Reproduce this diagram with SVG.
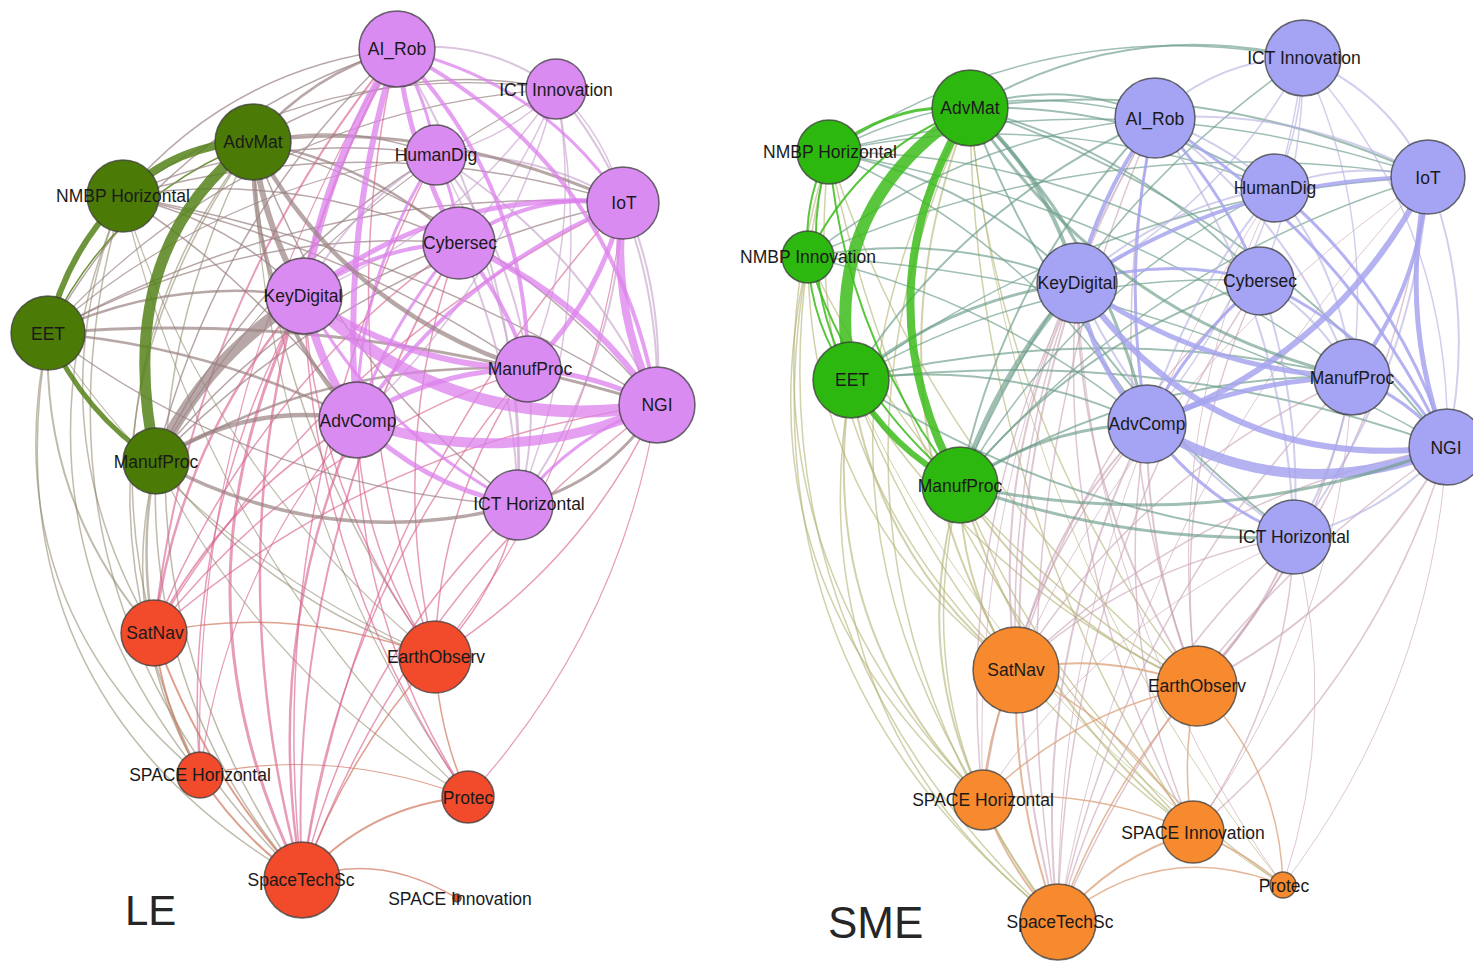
<svg xmlns="http://www.w3.org/2000/svg" width="1473" height="968" viewBox="0 0 1473 968">
<style>
.e path{fill:none;stroke-linecap:round}
.lg{stroke:#55821a;stroke-opacity:.85}
.lgp{stroke:#9a8282;stroke-opacity:.7}
.lgr{stroke:#8c8466;stroke-opacity:.55}
.lpp{stroke:#dc80ec;stroke-opacity:.75}
.lpt{stroke:#c8a4cc;stroke-opacity:.65}
.lpr{stroke:#d8608e;stroke-opacity:.62}
.lrr{stroke:#d0785e;stroke-opacity:.7}
.sg{stroke:#3cbc1c;stroke-opacity:.85}
.sgb{stroke:#6b9d88;stroke-opacity:.65}
.sbb{stroke:#a7a5ef;stroke-opacity:.85}
.sbt{stroke:#b2afe0;stroke-opacity:.6}
.sgo{stroke:#b3b274;stroke-opacity:.6}
.sbo{stroke:#c8a2b4;stroke-opacity:.6}
.soo{stroke:#dba07a;stroke-opacity:.75}
.node circle{stroke:#3a3a3a;stroke-opacity:.75;stroke-width:1.5}
.node text{font-family:"Liberation Sans",Arial,sans-serif;font-size:17.5px;fill:#1a1a1a;text-anchor:middle;dominant-baseline:central}
.lgn{fill:#4b7a06}.lpk{fill:#d98bf2}.lrd{fill:#f24b2b}
.sgn{fill:#2db80f}.sbl{fill:#a4a3f4}.sor{fill:#f78a2e}
.title{font-family:"Liberation Sans",Arial,sans-serif;fill:#262626}
</style>
<rect width="1473" height="968" fill="#fff"/>

<!-- LE network: connectors -->
<g id="le-edges" class="e" stroke-width="1.5">
<path class="lgr" d="M302 880Q56 526 253 142"/>
<path class="lgr" d="M302 880Q7 592 123 196"/>
<path class="lgr" d="M302 880Q-16 695 48 333"/>
<path class="lgr" d="M302 880Q145 700 156 461"/>
<path class="lgr" d="M200 775Q37 443 253 142"/>
<path class="lgr" d="M200 775Q-12 509 123 196"/>
<path class="lgr" d="M200 775Q-9 600 48 333"/>
<path class="lgr" d="M200 775Q115 627 156 461"/>
<path class="lgr" d="M154 633Q81 363 253 142"/>
<path class="lgr" d="M154 633Q29 422 123 196"/>
<path class="lgr" stroke-width="2" d="M154 633Q41 504 48 333"/>
<path class="lgr" stroke-width="2.5" d="M154 633Q138 547 156 461"/>
<path class="lgr" d="M435 657Q266 601 156 461"/>
<path class="lgr" d="M435 657Q267 427 253 142"/>
<path class="lgr" stroke-width="1.2" d="M435 657Q210 473 123 196"/>
<path class="lgr" stroke-width="1.2" d="M435 657Q193 553 48 333"/>
<path class="lgr" stroke-width="1.2" d="M468 797Q262 676 156 461"/>
<path class="lgr" stroke-width="1.2" d="M468 797Q262 502 253 142"/>
<path class="lgr" stroke-width="1.2" d="M468 797Q205 548 123 196"/>
<path class="lrr" stroke-width="2" d="M302 880Q241 838 200 775"/>
<path class="lrr" stroke-width="2" d="M200 775Q163 709 154 633"/>
<path class="lrr" stroke-width="2" d="M302 880Q203 771 154 633"/>
<path class="lrr" d="M302 880Q346 755 435 657"/>
<path class="lrr" d="M154 633Q291 603 435 657"/>
<path class="lrr" d="M468 797Q438 730 435 657"/>
<path class="lrr" stroke-width="2" d="M302 880Q368 805 468 797"/>
<path class="lrr" d="M302 880Q375 850 457 898"/>
<path class="lrr" stroke-width="1.2" d="M200 775Q331 746 468 797"/>
<path class="lpr" stroke-width="2.5" d="M302 880Q184 446 397 49"/>
<path class="lpr" stroke-width="2.5" d="M302 880Q261 642 357 420"/>
<path class="lpr" d="M302 880Q408 589 657 405"/>
<path class="lpr" stroke-width="2" d="M302 880Q285 538 459 243"/>
<path class="lpr" d="M302 880Q338 591 528 369"/>
<path class="lpr" d="M302 880Q354 660 518 505"/>
<path class="lpr" d="M302 880Q361 493 623 203"/>
<path class="lpr" d="M302 880Q260 497 436 155"/>
<path class="lpr" stroke-width="2.5" d="M154 633Q178 442 304 296"/>
<path class="lpr" stroke-width="2" d="M154 633Q188 305 397 49"/>
<path class="lpr" stroke-width="2" d="M154 633Q224 496 357 420"/>
<path class="lpr" d="M154 633Q371 444 657 405"/>
<path class="lpr" d="M154 633Q248 392 459 243"/>
<path class="lpr" d="M154 633Q301 445 528 369"/>
<path class="lpr" d="M154 633Q324 348 623 203"/>
<path class="lpr" d="M435 657Q315 496 304 296"/>
<path class="lpr" d="M435 657Q360 550 357 420"/>
<path class="lpr" d="M435 657Q325 359 397 49"/>
<path class="lpr" d="M657 405Q584 564 435 657"/>
<path class="lpr" stroke-width="1.2" d="M623 203Q597 458 435 657"/>
<path class="lpr" d="M435 657Q385 446 459 243"/>
<path class="lpr" d="M435 657Q438 499 528 369"/>
<path class="lpr" d="M518 505Q499 593 435 657"/>
<path class="lpr" d="M468 797Q311 571 304 296"/>
<path class="lpr" d="M468 797Q356 625 357 420"/>
<path class="lpr" stroke-width="1.2" d="M657 405Q621 629 468 797"/>
<path class="lpr" d="M200 775Q180 520 304 296"/>
<path class="lpr" stroke-width="1.2" d="M200 775Q225 574 357 420"/>
<path class="lpr" stroke-width="1.2" d="M200 775Q190 382 397 49"/>
<path class="lgp" d="M123 196Q231 68 397 49"/>
<path class="lgp" d="M48 333Q166 121 397 49"/>
<path class="lg" d="M48 333Q112 197 253 142"/>
<path class="lgp" stroke-width="2.5" d="M253 142Q311 74 397 49"/>
<path class="lgp" stroke-width="1.2" d="M123 196Q318 56 556 89"/>
<path class="lgp" d="M253 142Q394 55 556 89"/>
<path class="lgp" stroke-width="1.2" d="M48 333Q253 109 556 89"/>
<path class="lgp" d="M156 461Q215 219 397 49"/>
<path class="lgp" d="M123 196Q273 129 436 155"/>
<path class="lgp" d="M253 142Q347 121 436 155"/>
<path class="lgp" stroke-width="2.5" d="M253 142Q371 162 459 243"/>
<path class="lgp" d="M123 196Q298 169 459 243"/>
<path class="lgp" d="M123 196Q374 125 623 203"/>
<path class="lgp" stroke-width="2.5" d="M48 333Q170 276 304 296"/>
<path class="lgp" stroke-width="2.5" d="M48 333Q211 346 357 420"/>
<path class="lgp" d="M48 333Q240 226 459 243"/>
<path class="lgp" d="M123 196Q229 219 304 296"/>
<path class="lgp" d="M123 196Q343 242 528 369"/>
<path class="lgp" d="M123 196Q262 285 357 420"/>
<path class="lgp" d="M156 461Q275 307 459 243"/>
<path class="lgp" stroke-width="2.5" d="M156 461Q328 359 528 369"/>
<path class="lgp" d="M518 505Q257 490 48 333"/>
<path class="lgp" d="M48 333Q316 182 623 203"/>
<path class="lgp" d="M253 142Q495 213 657 405"/>
<path class="lgp" d="M518 505Q331 363 253 142"/>
<path class="lgp" d="M156 461Q250 266 436 155"/>
<path class="lgp" d="M156 461Q351 262 623 203"/>
<path class="lgp" d="M123 196Q411 247 657 405"/>
<path class="lgp" stroke-width="1.2" d="M48 333Q215 186 436 155"/>
<path class="lgp" stroke-width="1.2" d="M156 461Q300 215 556 89"/>
<path class="lpt" stroke-width="2" d="M397 49Q485 37 556 89"/>
<path class="lpt" d="M556 89Q506 140 436 155"/>
<path class="lpt" d="M556 89Q607 136 623 203"/>
<path class="lpt" d="M556 89Q523 176 459 243"/>
<path class="lpt" d="M556 89Q461 230 304 296"/>
<path class="lpt" d="M556 89Q506 284 357 420"/>
<path class="lpt" d="M556 89Q584 233 528 369"/>
<path class="lpt" d="M556 89Q599 303 518 505"/>
<path class="lpt" stroke-width="2" d="M556 89Q670 227 657 405"/>
<path class="lpt" stroke-width="2" d="M623 203Q660 301 657 405"/>
<path class="lpt" stroke-width="2" d="M436 155Q537 151 623 203"/>
<path class="lpt" stroke-width="2" d="M304 296Q349 206 436 155"/>
<path class="lpt" stroke-width="2" d="M436 155Q584 247 657 405"/>
<path class="lpt" stroke-width="2" d="M436 155Q514 248 528 369"/>
<path class="lpt" stroke-width="2" d="M459 243Q515 368 518 505"/>
<path class="lpt" stroke-width="2" d="M623 203Q616 370 518 505"/>
<path class="lpt" stroke-width="2" d="M528 369Q537 438 518 505"/>
<path class="lpt" stroke-width="2" d="M397 49Q526 259 518 505"/>
<path class="lpt" d="M436 155Q530 318 518 505"/>
<path class="lpr" stroke-width="3" d="M302 880Q157 588 304 296"/>
<path class="lgp" stroke-width="3" d="M253 142Q429 117 623 203"/>
<path class="lgp" stroke-width="3" d="M48 333Q345 308 657 405"/>
<path class="lgp" stroke-width="3.5" d="M518 505Q328 555 156 461"/>
<path class="lgp" stroke-width="3" d="M657 405Q608 483 518 505"/>
<path class="lpp" stroke-width="3" d="M397 49Q427 98 436 155"/>
<path class="lpp" stroke-width="3" d="M436 155Q456 197 459 243"/>
<path class="lpp" stroke-width="3" d="M397 49Q541 81 623 203"/>
<path class="lpp" stroke-width="3" d="M518 505Q380 433 304 296"/>
<path class="lpp" stroke-width="3" d="M357 420Q357 276 436 155"/>
<path class="lpp" stroke-width="3" d="M357 420Q390 321 459 243"/>
<path class="lpp" stroke-width="3" d="M518 505Q573 434 657 405"/>
<path class="lpp" stroke-width="4" d="M397 49Q616 162 657 405"/>
<path class="lpp" stroke-width="4" d="M397 49Q527 183 528 369"/>
<path class="lpp" stroke-width="4" d="M459 243Q506 299 528 369"/>
<path class="lpp" stroke-width="4" d="M459 243Q533 190 623 203"/>
<path class="lpp" stroke-width="4" d="M304 296Q374 246 459 243"/>
<path class="lpp" stroke-width="4" d="M357 420Q457 272 623 203"/>
<path class="lpp" stroke-width="5" d="M459 243Q409 152 397 49"/>
<path class="lpp" stroke-width="5" d="M304 296Q445 186 623 203"/>
<path class="lpp" stroke-width="5" d="M357 420Q435 369 528 369"/>
<path class="lpp" stroke-width="5" d="M518 505Q425 487 357 420"/>
<path class="lpp" stroke-width="5" d="M623 203Q600 300 528 369"/>
<path class="lpp" stroke-width="5" d="M528 369Q596 374 657 405"/>
<path class="lpp" stroke-width="6" d="M459 243Q582 294 657 405"/>
<path class="lpp" stroke-width="6" d="M528 369Q405 366 304 296"/>
<path class="lpp" stroke-width="6" d="M357 420Q340 230 397 49"/>
<path class="lpp" stroke-width="8" d="M304 296Q326 163 397 49"/>
<path class="lpp" stroke-width="8" d="M657 405Q610 309 623 203"/>
<path class="lpp" stroke-width="8" d="M357 420Q318 363 304 296"/>
<path class="lpp" stroke-width="10" d="M657 405Q510 473 357 420"/>
<path class="lpp" stroke-width="12" d="M657 405Q453 439 304 296"/>
<path class="lgp" stroke-width="4.5" d="M156 461Q248 400 357 420"/>
<path class="lgp" stroke-width="4" d="M357 420Q249 302 253 142"/>
<path class="lgp" stroke-width="4.5" d="M528 369Q345 311 253 142"/>
<path class="lgp" stroke-width="6" d="M304 296Q263 224 253 142"/>
<path class="lgp" stroke-width="12" d="M156 461Q205 356 304 296"/>
<path class="lg" stroke-width="5" d="M156 461Q83 413 48 333"/>
<path class="lg" stroke-width="6" d="M48 333Q65 254 123 196"/>
<path class="lg" stroke-width="8" d="M123 196Q177 143 253 142"/>
<path class="lg" stroke-width="11" d="M156 461Q110 250 253 142"/>
</g>

<!-- LE network: nodes -->
<g id="le-ai-rob" class="node"><circle class="lpk" cx="397" cy="49" r="38"/><text x="397" y="49">AI_Rob</text></g>
<g id="le-ict-innovation" class="node"><circle class="lpk" cx="556" cy="89" r="30"/><text x="556" y="90">ICT Innovation</text></g>
<g id="le-humandig" class="node"><circle class="lpk" cx="436" cy="155" r="30"/><text x="436" y="155">HumanDig</text></g>
<g id="le-advmat" class="node"><circle class="lgn" cx="253" cy="142" r="38"/><text x="253" y="142">AdvMat</text></g>
<g id="le-nmbp-horizontal" class="node"><circle class="lgn" cx="123" cy="196" r="36"/><text x="123" y="196">NMBP Horizontal</text></g>
<g id="le-iot" class="node"><circle class="lpk" cx="623" cy="203" r="36"/><text x="624" y="203">IoT</text></g>
<g id="le-cybersec" class="node"><circle class="lpk" cx="459" cy="243" r="36"/><text x="460" y="243">Cybersec</text></g>
<g id="le-keydigital" class="node"><circle class="lpk" cx="304" cy="296" r="38"/><text x="303" y="296">KeyDigital</text></g>
<g id="le-eet" class="node"><circle class="lgn" cx="48" cy="333" r="37"/><text x="48" y="334">EET</text></g>
<g id="le-manufproc-ict" class="node"><circle class="lpk" cx="528" cy="369" r="33"/><text x="530" y="369">ManufProc</text></g>
<g id="le-ngi" class="node"><circle class="lpk" cx="657" cy="405" r="38"/><text x="657" y="405">NGI</text></g>
<g id="le-advcomp" class="node"><circle class="lpk" cx="357" cy="420" r="38"/><text x="358" y="421">AdvComp</text></g>
<g id="le-manufproc-nmbp" class="node"><circle class="lgn" cx="156" cy="461" r="33"/><text x="156" y="462">ManufProc</text></g>
<g id="le-ict-horizontal" class="node"><circle class="lpk" cx="518" cy="505" r="35"/><text x="529" y="504">ICT Horizontal</text></g>
<g id="le-satnav" class="node"><circle class="lrd" cx="154" cy="633" r="33"/><text x="155" y="633">SatNav</text></g>
<g id="le-earthobserv" class="node"><circle class="lrd" cx="435" cy="657" r="36"/><text x="436" y="657">EarthObserv</text></g>
<g id="le-space-horizontal" class="node"><circle class="lrd" cx="200" cy="775" r="23"/><text x="200" y="775">SPACE Horizontal</text></g>
<g id="le-protec" class="node"><circle class="lrd" cx="468" cy="797" r="26"/><text x="468" y="798">Protec</text></g>
<g id="le-spacetechsc" class="node"><circle class="lrd" cx="302" cy="880" r="38"/><text x="301" y="880">SpaceTechSc</text></g>
<g id="le-space-innovation" class="node"><circle class="lrd" cx="457" cy="898" r="4"/><text x="460" y="899">SPACE Innovation</text></g>

<!-- SME network: connectors -->
<g id="sme-edges" class="e" stroke-width="1.5">
<path class="sgo" d="M1058 922Q770 541 970 108"/>
<path class="sgo" d="M1058 922Q713 606 829 152"/>
<path class="sgo" d="M1058 922Q734 665 808 257"/>
<path class="sgo" d="M1058 922Q792 713 851 380"/>
<path class="sgo" d="M1058 922Q900 728 960 485"/>
<path class="sgo" d="M983 800Q769 458 970 108"/>
<path class="sgo" d="M983 800Q712 522 829 152"/>
<path class="sgo" d="M983 800Q733 581 808 257"/>
<path class="sgo" stroke-width="2" d="M983 800Q812 623 851 380"/>
<path class="sgo" stroke-width="2" d="M983 800Q909 647 960 485"/>
<path class="sgo" stroke-width="2" d="M1016 670Q853 401 970 108"/>
<path class="sgo" d="M1016 670Q793 458 829 152"/>
<path class="sgo" d="M1016 670Q809 516 808 257"/>
<path class="sgo" stroke-width="2" d="M1016 670Q876 558 851 380"/>
<path class="sgo" stroke-width="2" d="M1016 670Q960 586 960 485"/>
<path class="sgo" d="M1197 686Q997 431 970 108"/>
<path class="sgo" d="M1197 686Q933 474 829 152"/>
<path class="sgo" d="M1197 686Q978 585 851 380"/>
<path class="sgo" stroke-width="2" d="M1197 686Q1048 621 960 485"/>
<path class="sgo" d="M1197 686Q938 530 808 257"/>
<path class="sgo" d="M1193 832Q973 504 970 108"/>
<path class="sgo" stroke-width="2" d="M1193 832Q1025 694 960 485"/>
<path class="sgo" d="M1193 832Q954 657 851 380"/>
<path class="sgo" d="M1193 832Q909 547 829 152"/>
<path class="sgo" d="M1283 885Q1062 733 960 485"/>
<path class="sgo" stroke-width="1" d="M1283 885Q1010 544 970 108"/>
<path class="sgo" stroke-width="1" d="M1283 885Q991 697 851 380"/>
<path class="sbo" stroke-width="2" d="M1058 922Q972 600 1077 283"/>
<path class="sbo" d="M1058 922Q986 506 1155 118"/>
<path class="sbo" stroke-width="2" d="M1058 922Q1028 660 1147 424"/>
<path class="sbo" d="M1058 922Q1181 626 1447 447"/>
<path class="sbo" d="M1058 922Q1123 605 1352 377"/>
<path class="sbo" d="M1058 922Q1063 571 1260 281"/>
<path class="sbo" d="M1058 922Q1118 694 1294 537"/>
<path class="sbo" stroke-width="1" d="M1058 922Q1131 494 1428 177"/>
<path class="sbo" stroke-width="1" d="M1058 922Q1056 522 1275 188"/>
<path class="sbo" stroke-width="2" d="M1016 670Q989 467 1077 283"/>
<path class="sbo" stroke-width="2" d="M1016 670Q1045 527 1147 424"/>
<path class="sbo" d="M1016 670Q1003 373 1155 118"/>
<path class="sbo" d="M1016 670Q1198 494 1447 447"/>
<path class="sbo" d="M1016 670Q1140 473 1352 377"/>
<path class="sbo" d="M1016 670Q1080 439 1260 281"/>
<path class="sbo" stroke-width="1" d="M1016 670Q1148 362 1428 177"/>
<path class="sbo" d="M1016 670Q1135 562 1294 537"/>
<path class="sbo" stroke-width="2" d="M1197 686Q1077 503 1077 283"/>
<path class="sbo" stroke-width="2" d="M1197 686Q1146 560 1147 424"/>
<path class="sbo" d="M1197 686Q1091 408 1155 118"/>
<path class="sbo" stroke-width="2" d="M1447 447Q1358 604 1197 686"/>
<path class="sbo" d="M1428 177Q1389 466 1197 686"/>
<path class="sbo" d="M1352 377Q1321 555 1197 686"/>
<path class="sbo" stroke-width="2" d="M1294 537Q1260 621 1197 686"/>
<path class="sbo" d="M1197 686Q1168 474 1260 281"/>
<path class="sbo" stroke-width="1" d="M1197 686Q1161 425 1275 188"/>
<path class="sbo" d="M1193 832Q1053 575 1077 283"/>
<path class="sbo" d="M1193 832Q1109 635 1147 424"/>
<path class="sbo" d="M1447 447Q1378 678 1193 832"/>
<path class="sbo" d="M1294 537Q1288 700 1193 832"/>
<path class="sbo" stroke-width="1" d="M1352 377Q1341 628 1193 832"/>
<path class="sbo" stroke-width="1" d="M1447 447Q1431 691 1283 885"/>
<path class="sbo" stroke-width="1" d="M1294 537Q1341 713 1283 885"/>
<path class="sbo" stroke-width="1" d="M1283 885Q1090 615 1077 283"/>
<path class="sbo" d="M983 800Q952 527 1077 283"/>
<path class="sbo" d="M983 800Q1009 587 1147 424"/>
<path class="sbo" stroke-width="1" d="M983 800Q967 433 1155 118"/>
<path class="sbo" stroke-width="1" d="M983 800Q1099 622 1294 537"/>
<path class="soo" stroke-width="2" d="M1016 670Q1104 651 1197 686"/>
<path class="soo" stroke-width="2" d="M1058 922Q1012 800 1016 670"/>
<path class="soo" stroke-width="2" d="M1058 922Q1008 869 983 800"/>
<path class="soo" stroke-width="2" d="M983 800Q987 732 1016 670"/>
<path class="soo" stroke-width="2" d="M1058 922Q1112 857 1193 832"/>
<path class="soo" d="M1058 922Q1159 836 1283 885"/>
<path class="soo" d="M1193 832Q1243 850 1283 885"/>
<path class="soo" d="M1197 686Q1280 768 1283 885"/>
<path class="soo" d="M1193 832Q1180 759 1197 686"/>
<path class="soo" d="M1016 670Q1129 724 1193 832"/>
<path class="soo" d="M983 800Q1083 785 1193 832"/>
<path class="soo" d="M983 800Q1073 711 1197 686"/>
<path class="soo" d="M1058 922Q1104 790 1197 686"/>
<path class="sgb" stroke-width="2" d="M970 108Q1065 76 1155 118"/>
<path class="sgb" stroke-width="2" d="M970 108Q1127 16 1303 58"/>
<path class="sgb" d="M829 152Q985 70 1155 118"/>
<path class="sgb" d="M829 152Q1047 10 1303 58"/>
<path class="sgb" stroke-width="2" d="M970 108Q1135 102 1275 188"/>
<path class="sgb" stroke-width="2" d="M970 108Q1209 74 1428 177"/>
<path class="sgb" stroke-width="2" d="M970 108Q1141 151 1260 281"/>
<path class="sgb" stroke-width="3" d="M970 108Q1106 240 1147 424"/>
<path class="sgb" stroke-width="2" d="M970 108Q1259 206 1447 447"/>
<path class="sgb" stroke-width="2" d="M1294 537Q1068 371 970 108"/>
<path class="sgb" stroke-width="2" d="M829 152Q973 180 1077 283"/>
<path class="sgb" d="M829 152Q1057 103 1275 188"/>
<path class="sgb" d="M829 152Q1132 75 1428 177"/>
<path class="sgb" d="M829 152Q1064 152 1260 281"/>
<path class="sgb" d="M829 152Q1029 240 1147 424"/>
<path class="sgb" d="M829 152Q1118 202 1352 377"/>
<path class="sgb" stroke-width="2" d="M808 257Q946 230 1077 283"/>
<path class="sgb" d="M808 257Q961 136 1155 118"/>
<path class="sgb" d="M808 257Q998 300 1147 424"/>
<path class="sgb" d="M808 257Q1150 275 1447 447"/>
<path class="sgb" d="M808 257Q1106 124 1428 177"/>
<path class="sgb" stroke-width="3" d="M851 380Q950 298 1077 283"/>
<path class="sgb" stroke-width="2" d="M851 380Q1006 358 1147 424"/>
<path class="sgb" stroke-width="2" d="M851 380Q964 203 1155 118"/>
<path class="sgb" stroke-width="2" d="M851 380Q1101 318 1352 377"/>
<path class="sgb" stroke-width="2" d="M851 380Q1157 342 1447 447"/>
<path class="sgb" stroke-width="2" d="M1294 537Q1054 512 851 380"/>
<path class="sgb" d="M851 380Q1041 269 1260 281"/>
<path class="sgb" d="M851 380Q1109 192 1428 177"/>
<path class="sgb" stroke-width="2" d="M960 485Q1003 272 1155 118"/>
<path class="sgb" stroke-width="2" d="M960 485Q1140 372 1352 377"/>
<path class="sgb" stroke-width="2" d="M960 485Q1079 338 1260 281"/>
<path class="sgb" d="M960 485Q1148 261 1428 177"/>
<path class="sgb" d="M960 485Q1073 289 1275 188"/>
<path class="sgb" d="M960 485Q1068 220 1303 58"/>
<path class="sbt" stroke-width="2" d="M1155 118Q1217 58 1303 58"/>
<path class="sbt" stroke-width="2" d="M1303 58Q1389 93 1428 177"/>
<path class="sbt" d="M1303 58Q1302 126 1275 188"/>
<path class="sbt" d="M1303 58Q1224 204 1077 283"/>
<path class="sbt" d="M1303 58Q1453 224 1447 447"/>
<path class="sbt" d="M1303 58Q1304 174 1260 281"/>
<path class="sbt" d="M1303 58Q1375 210 1352 377"/>
<path class="sbt" d="M1303 58Q1280 264 1147 424"/>
<path class="sbt" stroke-width="2" d="M1275 188Q1350 160 1428 177"/>
<path class="sbt" stroke-width="2" d="M1147 424Q1187 293 1275 188"/>
<path class="sbt" stroke-width="2" d="M1275 188Q1342 271 1352 377"/>
<path class="sbt" stroke-width="2" d="M1155 118Q1300 107 1428 177"/>
<path class="sbt" stroke-width="2" d="M1155 118Q1292 218 1352 377"/>
<path class="sbt" stroke-width="2" d="M1155 118Q1287 307 1294 537"/>
<path class="sbt" stroke-width="2" d="M1294 537Q1147 443 1077 283"/>
<path class="sbt" stroke-width="2" d="M1260 281Q1320 315 1352 377"/>
<path class="sbt" stroke-width="2" d="M1260 281Q1303 406 1294 537"/>
<path class="sbt" stroke-width="2" d="M1428 177Q1415 377 1294 537"/>
<path class="sbt" stroke-width="2" d="M1352 377Q1339 463 1294 537"/>
<path class="sbt" stroke-width="2" d="M1447 447Q1384 515 1294 537"/>
<path class="sbt" stroke-width="2" d="M1428 177Q1478 309 1447 447"/>
<path class="sbt" stroke-width="2" d="M1155 118Q1222 141 1275 188"/>
<path class="sbt" stroke-width="2" d="M1077 283Q1162 206 1275 188"/>
<path class="sbb" stroke-width="3" d="M1155 118Q1350 239 1447 447"/>
<path class="sbb" stroke-width="3" d="M1275 188Q1400 292 1447 447"/>
<path class="sbb" stroke-width="3" d="M1260 281Q1378 336 1447 447"/>
<path class="sbb" stroke-width="3" d="M1294 537Q1204 503 1147 424"/>
<path class="sbb" stroke-width="3" d="M1352 377Q1410 398 1447 447"/>
<path class="sbb" stroke-width="3" d="M1147 424Q1120 270 1155 118"/>
<path class="sbb" stroke-width="3" d="M1155 118Q1224 189 1260 281"/>
<path class="sbb" stroke-width="3" d="M1077 283Q1168 255 1260 281"/>
<path class="sbb" stroke-width="3" d="M1147 424Q1189 341 1260 281"/>
<path class="sbb" stroke-width="4" d="M1077 283Q1100 193 1155 118"/>
<path class="sbb" stroke-width="4" d="M1077 283Q1237 177 1428 177"/>
<path class="sbb" stroke-width="4" d="M1428 177Q1420 288 1352 377"/>
<path class="sbb" stroke-width="5" d="M1447 447Q1397 315 1428 177"/>
<path class="sbb" stroke-width="5" d="M1147 424Q1091 364 1077 283"/>
<path class="sbb" stroke-width="5" d="M1147 424Q1245 380 1352 377"/>
<path class="sbb" stroke-width="5" d="M1352 377Q1200 371 1077 283"/>
<path class="sbb" stroke-width="6" d="M1428 177Q1337 357 1147 424"/>
<path class="sbb" stroke-width="6" d="M1447 447Q1213 476 1077 283"/>
<path class="sbb" stroke-width="10" d="M1447 447Q1291 511 1147 424"/>
<path class="sgb" stroke-width="4" d="M970 108Q1050 180 1077 283"/>
<path class="sgb" stroke-width="5" d="M960 485Q998 372 1077 283"/>
<path class="sgb" stroke-width="3" d="M960 485Q1044 426 1147 424"/>
<path class="sgb" stroke-width="3" d="M1294 537Q1122 544 960 485"/>
<path class="sgb" stroke-width="3" d="M1447 447Q1209 539 960 485"/>
<path class="sgb" stroke-width="3" d="M1352 377Q1107 319 970 108"/>
<path class="sg" stroke-width="3" d="M829 152Q891 102 970 108"/>
<path class="sg" stroke-width="2" d="M808 257Q859 150 970 108"/>
<path class="sg" stroke-width="2" d="M808 257Q803 201 829 152"/>
<path class="sg" stroke-width="2" d="M851 380Q794 270 829 152"/>
<path class="sg" stroke-width="2" d="M960 485Q845 338 829 152"/>
<path class="sg" stroke-width="2" d="M851 380Q811 325 808 257"/>
<path class="sg" stroke-width="2" d="M960 485Q850 394 808 257"/>
<path class="sg" stroke-width="6" d="M960 485Q890 449 851 380"/>
<path class="sg" stroke-width="8" d="M960 485Q856 294 970 108"/>
<path class="sg" stroke-width="12" d="M851 380Q818 204 970 108"/>
</g>

<!-- SME network: nodes -->
<g id="sme-advmat" class="node"><circle class="sgn" cx="970" cy="108" r="38"/><text x="970" y="108">AdvMat</text></g>
<g id="sme-nmbp-horizontal" class="node"><circle class="sgn" cx="829" cy="152" r="32"/><text x="830" y="152">NMBP Horizontal</text></g>
<g id="sme-nmbp-innovation" class="node"><circle class="sgn" cx="808" cy="257" r="26"/><text x="808" y="257">NMBP Innovation</text></g>
<g id="sme-ai-rob" class="node"><circle class="sbl" cx="1155" cy="118" r="40"/><text x="1155" y="119">AI_Rob</text></g>
<g id="sme-ict-innovation" class="node"><circle class="sbl" cx="1303" cy="58" r="38"/><text x="1304" y="58">ICT Innovation</text></g>
<g id="sme-humandig" class="node"><circle class="sbl" cx="1275" cy="188" r="34"/><text x="1275" y="188">HumanDig</text></g>
<g id="sme-iot" class="node"><circle class="sbl" cx="1428" cy="177" r="37"/><text x="1428" y="178">IoT</text></g>
<g id="sme-keydigital" class="node"><circle class="sbl" cx="1077" cy="283" r="40"/><text x="1077" y="283">KeyDigital</text></g>
<g id="sme-cybersec" class="node"><circle class="sbl" cx="1260" cy="281" r="34"/><text x="1260" y="281">Cybersec</text></g>
<g id="sme-eet" class="node"><circle class="sgn" cx="851" cy="380" r="38"/><text x="852" y="380">EET</text></g>
<g id="sme-manufproc-ict" class="node"><circle class="sbl" cx="1352" cy="377" r="38"/><text x="1352" y="378">ManufProc</text></g>
<g id="sme-advcomp" class="node"><circle class="sbl" cx="1147" cy="424" r="39"/><text x="1147" y="424">AdvComp</text></g>
<g id="sme-ngi" class="node"><circle class="sbl" cx="1447" cy="447" r="38"/><text x="1446" y="448">NGI</text></g>
<g id="sme-manufproc-nmbp" class="node"><circle class="sgn" cx="960" cy="485" r="38"/><text x="960" y="486">ManufProc</text></g>
<g id="sme-ict-horizontal" class="node"><circle class="sbl" cx="1294" cy="537" r="37"/><text x="1294" y="537">ICT Horizontal</text></g>
<g id="sme-satnav" class="node"><circle class="sor" cx="1016" cy="670" r="43"/><text x="1016" y="670">SatNav</text></g>
<g id="sme-earthobserv" class="node"><circle class="sor" cx="1197" cy="686" r="40"/><text x="1197" y="686">EarthObserv</text></g>
<g id="sme-space-horizontal" class="node"><circle class="sor" cx="983" cy="800" r="30"/><text x="983" y="800">SPACE Horizontal</text></g>
<g id="sme-space-innovation" class="node"><circle class="sor" cx="1193" cy="832" r="31"/><text x="1193" y="833">SPACE Innovation</text></g>
<g id="sme-protec" class="node"><circle class="sor" cx="1283" cy="885" r="13"/><text x="1284" y="886">Protec</text></g>
<g id="sme-spacetechsc" class="node"><circle class="sor" cx="1058" cy="922" r="38"/><text x="1060" y="922">SpaceTechSc</text></g>

<!-- panel captions -->
<text class="title" x="125" y="925" font-size="42">LE</text>
<text class="title" x="828" y="938" font-size="44">SME</text>
</svg>
